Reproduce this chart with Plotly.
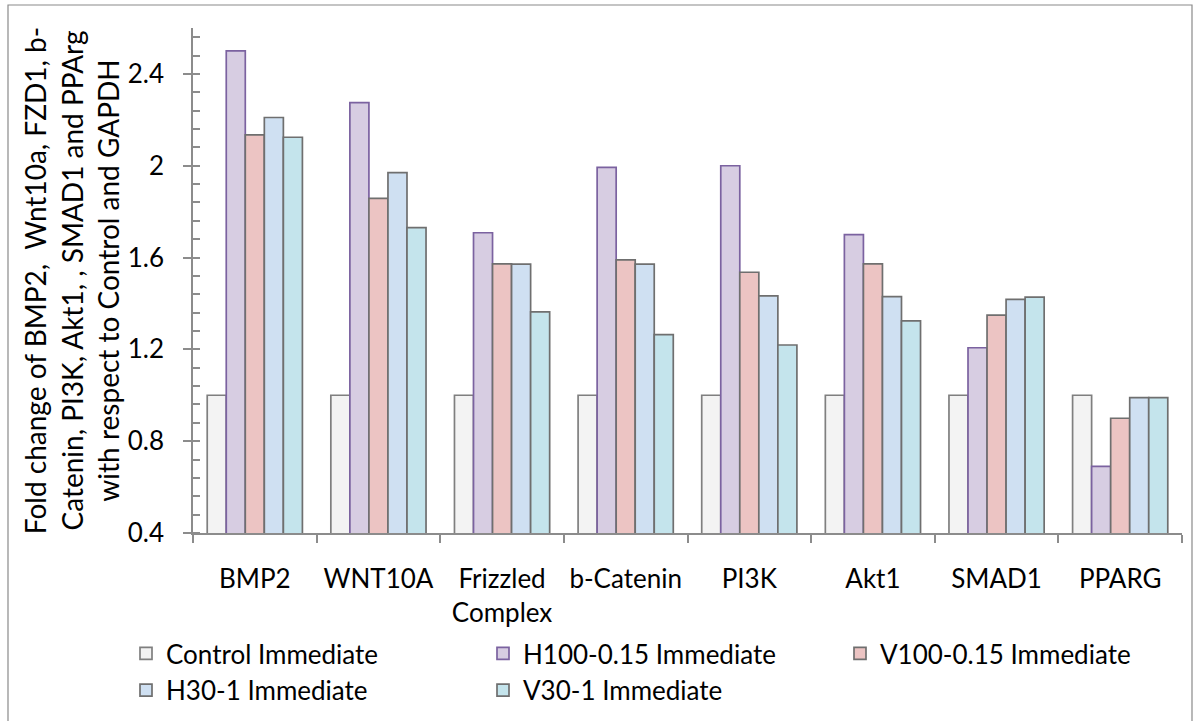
import plotly.graph_objects as go

# Gene expression fold change, immediate time point
categories = ["BMP2", "WNT10A", "Frizzled<br>Complex", "b-Catenin", "PI3K", "Akt1", "SMAD1", "PPARG"]

series_names = ["Control Immediate", "H100-0.15 Immediate", "V100-0.15 Immediate",
                "H30-1 Immediate", "V30-1 Immediate"]
control = [1.0, 1.0, 1.0, 1.0, 1.0, 1.0, 1.0, 1.0]
h100 = [2.50, 2.275, 1.708, 1.993, 2.00, 1.70, 1.207, 0.69]
v100 = [2.134, 1.858, 1.572, 1.59, 1.536, 1.572, 1.349, 0.90]
h30 = [2.21, 1.97, 1.571, 1.571, 1.433, 1.43, 1.418, 0.99]
v30 = [2.124, 1.73, 1.363, 1.264, 1.219, 1.324, 1.428, 0.99]
series_values = [control, h100, v100, h30, v30]

y_ticks = [0.4, 0.8, 1.2, 1.6, 2.0, 2.4]

fills = ["#f3f3f3", "#d7cde2", "#ecc4c3", "#cfe0f2", "#c4e4ec"]
outlines = ["#7f7f7f", "#7b62a0", "#6f6f6f", "#6f6f6f", "#6f6f6f"]

FONT = "Lato, Carlito, 'Liberation Sans', sans-serif"
AXIS_GRAY = "#8c8c8c"

W, H = 1198, 721
L, R, T, B = 193, 16, 28, 188
PW = W - L - R
PH = H - T - B

fig = go.Figure()
for name, vals, fc, lc in zip(series_names, series_values, fills, outlines):
    fig.add_trace(go.Bar(
        x=categories, y=vals, name=name,
        marker=dict(color=fc, line=dict(color=lc, width=1.7)),
    ))

# invisible helper trace so the overlay axis carries the inside half of the major ticks
fig.add_trace(go.Scatter(x=[categories[0]], y=[None], yaxis="y2", showlegend=False,
                         hoverinfo="skip", mode="markers"))

fig.update_layout(
    width=W, height=H,
    margin=dict(l=L, r=R, t=T, b=B, autoexpand=False),
    paper_bgcolor="white", plot_bgcolor="white",
    barmode="group", bargap=0.23, bargroupgap=0,
    font=dict(family=FONT, size=26, color="#000000"),
    showlegend=True,
    legend=dict(
        orientation="h", x=(126 - L) / PW, xanchor="left",
        y=(H - 630 - B) / PH, yanchor="top",
        entrywidth=312, entrywidthmode="pixels",
        font=dict(family=FONT, size=26, color="#000000"),
        itemwidth=30, traceorder="normal", tracegroupgap=0,
        bgcolor="rgba(0,0,0,0)",
    ),
    xaxis=dict(
        type="category", showline=True, linecolor=AXIS_GRAY, linewidth=1.5,
        ticks="outside", ticklen=8, tickwidth=1.5, tickcolor=AXIS_GRAY,
        tickson="boundaries", ticklabelstandoff=22,
        showgrid=False, zeroline=False,
        tickfont=dict(family=FONT, size=26),
    ),
    yaxis=dict(
        range=[0.4, 2.6], tickvals=y_ticks, ticktext=[f"{v:g}" for v in y_ticks],
        showline=True, linecolor=AXIS_GRAY, linewidth=1.5,
        ticks="outside", ticklen=8, tickwidth=1.5, tickcolor=AXIS_GRAY,
        minor=dict(dtick=0.08, tick0=0.4, ticks="inside", ticklen=7,
                   tickwidth=1.5, tickcolor=AXIS_GRAY, showgrid=False),
        showgrid=False, zeroline=False, ticklabelstandoff=14,
        tickfont=dict(family=FONT, size=26),
        title=dict(
            text="Fold change of BMP2,  Wnt10a, FZD1, b-<br>"
                 "Catenin, PI3K, Akt1, , SMAD1 and PPArg<br>"
                 "with respect to Control and GAPDH",
            font=dict(family=FONT, size=28), standoff=0,
        ),
    ),
    yaxis2=dict(
        overlaying="y", range=[0.4, 2.6], tickvals=y_ticks, showticklabels=False,
        ticks="inside", ticklen=7, tickwidth=1.5, tickcolor=AXIS_GRAY,
        showgrid=False, zeroline=False, showline=False,
    ),
    shapes=[dict(
        type="rect", xref="paper", yref="paper", layer="below",
        x0=(8 - L) / PW, x1=(1192 - L) / PW,
        y0=(H - 730 - B) / PH, y1=(H - 5 - B) / PH,
        line=dict(color="#8a8a8a", width=1.2), fillcolor="rgba(0,0,0,0)",
    )],
)

fig.write_html("out.html")
